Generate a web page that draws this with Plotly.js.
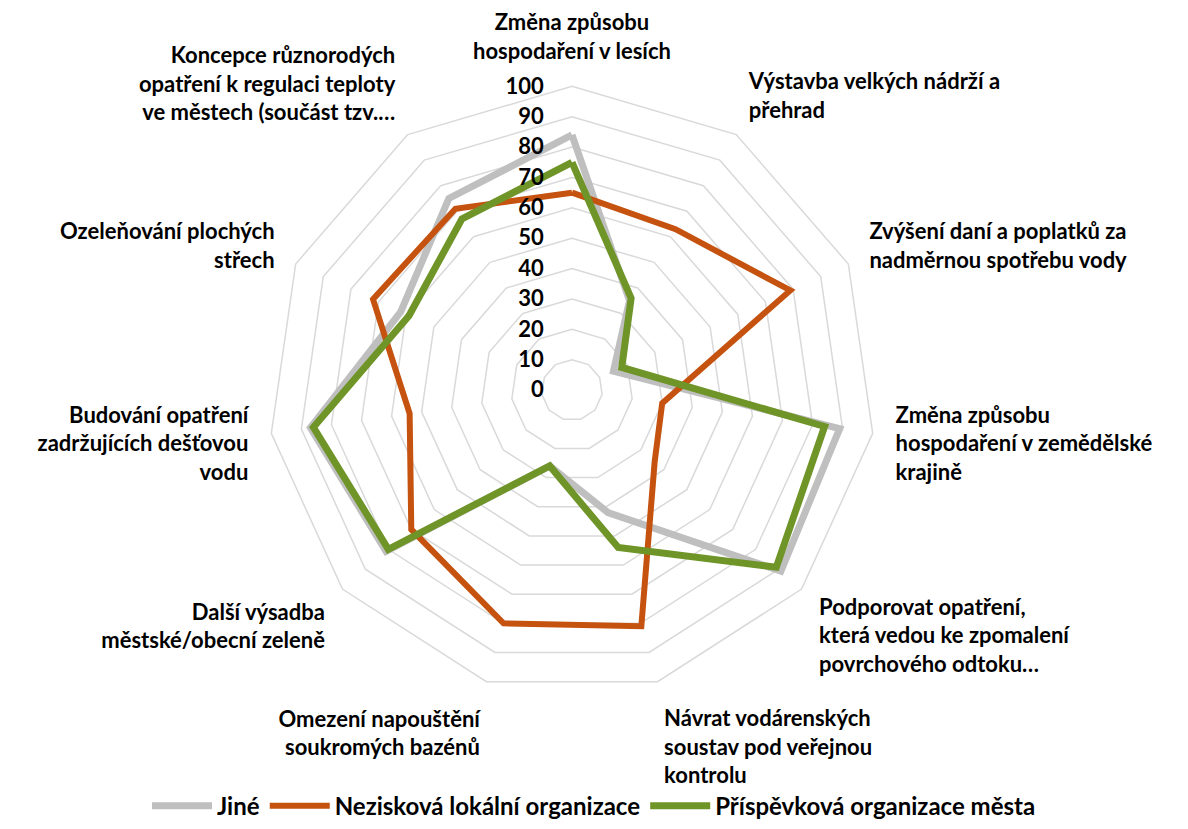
<!DOCTYPE html>
<html>
<head>
<meta charset="utf-8">
<script src="https://cdn.plot.ly/plotly-3.0.1.min.js"></script>
<style>html,body{margin:0;padding:0;background:#fff;}#chart{width:1188px;height:829px;}</style>
</head>
<body>
<div id="chart"></div>
<script>
const categories = [
  "Změna způsobu<br>hospodaření v lesích",
  "Výstavba velkých nádrží a<br>přehrad",
  "Zvýšení daní a poplatků za<br>nadměrnou spotřebu vody",
  "Změna způsobu<br>hospodaření v zemědělské<br>krajině",
  "Podporovat opatření,<br>která vedou ke zpomalení<br>povrchového odtoku…",
  "Návrat vodárenských<br>soustav pod veřejnou<br>kontrolu",
  "Omezení napouštění<br>soukromých bazénů",
  "Další výsadba<br>městské/obecní zeleně",
  "Budování opatření<br>zadržujících dešťovou<br>vodu",
  "Ozeleňování plochých<br>střech",
  "Koncepce různorodých<br>opatření k regulaci teploty<br>ve městech (součást tzv.…"
];
const seriesNames = ["Jiné", "Nezisková lokální organizace", "Příspěvková organizace města"];
const jine = [84, 35, 15, 89, 91, 42, 26, 81, 87, 62, 75];
const nezisk = [65, 63, 79, 30, 36, 81, 80, 70, 54, 72, 71];
const prispev = [75, 36, 18, 84, 89, 54, 26, 80, 86, 59, 67];
const radialTicks = [0, 10, 20, 30, 40, 50, 60, 70, 80, 90, 100];

const colors = ["#BFBFBF", "#C5520F", "#6F9427"];
const widths = [7, 6, 7];
const allValues = [jine, nezisk, prispev];

function closeLoop(arr) { return arr.concat([arr[0]]); }

const traces = allValues.map((vals, i) => ({
  type: "scatterpolar",
  mode: "lines",
  name: seriesNames[i],
  r: closeLoop(vals),
  theta: closeLoop(categories),
  line: { color: colors[i], width: widths[i], shape: "linear" },
  hoverinfo: "skip"
}));

const FONT = "Lato, 'Open Sans', sans-serif";
const W = 1188, H = 829;
const cx = 572, cy = 393, R = 306;

const layout = {
  width: W, height: H,
  margin: { l: 0, r: 0, t: 0, b: 0, pad: 0 },
  paper_bgcolor: "#ffffff",
  font: { family: FONT, size: 22, color: "#000000", weight: "bold" },
  showlegend: true,
  legend: {
    orientation: "h",
    x: 0.5, xanchor: "center",
    y: 1 - 812 / H, yanchor: "middle",
    font: { family: FONT, size: 24, color: "#000000", weight: "bold" },
    itemwidth: 60,
    traceorder: "normal"
  },
  polar: {
    domain: { x: [(cx - R) / W, (cx + R) / W], y: [1 - (cy + R) / H, 1 - (cy - R) / H] },
    gridshape: "linear",
    bgcolor: "#ffffff",
    radialaxis: {
      range: [0, 100],
      tickvals: radialTicks,
      ticktext: radialTicks.map(String),
      angle: 90,
      side: "counterclockwise",
      tickangle: 90,
      showline: false,
      ticks: "outside",
      ticklen: 20,
      tickcolor: "rgba(0,0,0,0)",
      showgrid: true,
      gridcolor: "#D9D9D9",
      gridwidth: 1.5,
      tickfont: { family: FONT, size: 22, color: "#000000", weight: "bold" }
    },
    angularaxis: {
      type: "category",
      categoryorder: "array",
      categoryarray: categories,
      direction: "clockwise",
      rotation: 90,
      showgrid: false,
      showline: true,
      linecolor: "#D9D9D9",
      linewidth: 1.5,
      ticks: "outside",
      ticklen: 18,
      tickcolor: "rgba(0,0,0,0)",
      tickfont: { family: FONT, size: 22, color: "#000000", weight: "bold" }
    }
  }
};

Plotly.newPlot("chart", traces, layout, { displayModeBar: false, staticPlot: true });
</script>
</body>
</html>
